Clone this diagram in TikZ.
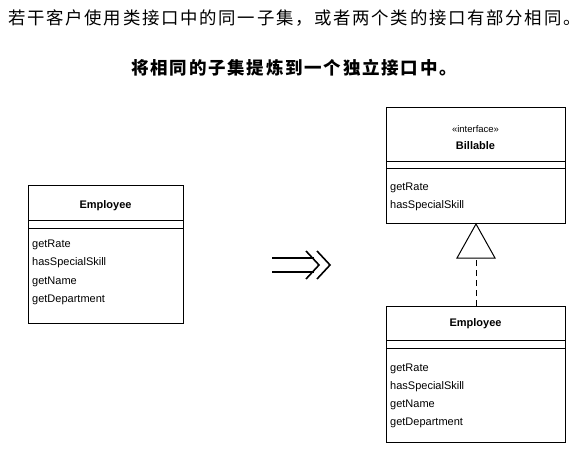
\documentclass[tikz,border=0pt]{standalone}
\usepackage{fontspec}
\setmainfont{Liberation Sans}
\newfontfamily\cjk[LetterSpace=10]{Noto Sans CJK SC}
\usetikzlibrary{positioning}

\tikzset{
    classbox/.style={draw, line width=1pt, anchor=north west, inner sep=0pt},
    classname/.style={font=\bfseries\fontsize{11}{13}\selectfont, inner sep=0pt},
    stereo/.style={font=\fontsize{9.5}{11}\selectfont, inner sep=0pt},
    opname/.style={anchor=base west, font=\fontsize{11}{13}\selectfont, inner sep=0pt},
    sep/.style={line width=1pt},
}

\begin{document}
\begin{tikzpicture}[x=1pt, y=-1pt]

        \useasboundingbox (0, 0) rectangle (585, 449);

        % headings
        \node [anchor=west, inner sep=0pt, font=\cjk\fontsize{17.4}{20}\selectfont] (intro) at (8, 18)
            {若干客户使用类接口中的同一子集，或者两个类的接口有部分相同。};
        \node [inner sep=0pt, font=\cjk\bfseries\fontsize{17.5}{20}\selectfont] (todo) at (294, 68)
            {将相同的子集提炼到一个独立接口中。};

        % before
        \node [classbox, minimum width=155pt, minimum height=138pt] (empOld) at (28, 185) {};
        \draw [sep] (empOld.north west) ++(0, 35) -- ++(155, 0)
        (empOld.north west) ++(0, 43) -- ++(155, 0);
        \node [classname] (empOldName) at (105.5, 206) {Employee};

        \foreach \m [count=\i from 0] in {getRate, hasSpecialSkill, getName, getDepartment} {
                \node [opname] (oldOp\i) at (32, 247 + 18.6 * \i) {\m};
            }

        % arrow
        \draw [line width=1.6pt] (272, 258) -- (314, 258)
        (272, 272) -- (314, 272);
        \draw [line width=1.6pt] (306, 251) -- (319, 265) -- (306, 279);
        \draw [line width=1.6pt] (317, 251) -- (330, 265) -- (317, 279);

        % after
        \node [classbox, minimum width=179pt, minimum height=116pt] (bill) at (386, 107) {};
        \draw [sep] (bill.north west) ++(0, 54) -- ++(179, 0)
        (bill.north west) ++(0, 61) -- ++(179, 0);
        \node [stereo] (billStereo) at (475.5, 129) {«interface»};
        \node [classname] (billName) at (475.5, 146) {Billable};

        \foreach \m [count=\i from 0] in {getRate, hasSpecialSkill} {
                \node [opname] (billOp\i) at (390, 190 + 18.6 * \i) {\m};
            }

        \node [classbox, minimum width=179pt, minimum height=136pt] (empNew) at (386, 306) {};
        \draw [sep] (empNew.north west) ++(0, 34) -- ++(179, 0)
        (empNew.north west) ++(0, 42) -- ++(179, 0);
        \node [classname] (empNewName) at (475.5, 324) {Employee};

        \foreach \m [count=\i from 0] in {getRate, hasSpecialSkill, getName, getDepartment} {
                \node [opname] (newOp\i) at (390, 371 + 18 * \i) {\m};
            }

        % realization
        \draw [line width=1pt, fill=white] (bill.south) -- ++(-19, 34) coordinate (triL)
        -- ++(38, 0) -- cycle;
        \coordinate (triBase) at (bill.south |- triL);
        \draw [line width=1pt, dashed, dash pattern=on 6pt off 4pt] (empNew.north) -- (triBase);

    \end{tikzpicture}
\end{document}
